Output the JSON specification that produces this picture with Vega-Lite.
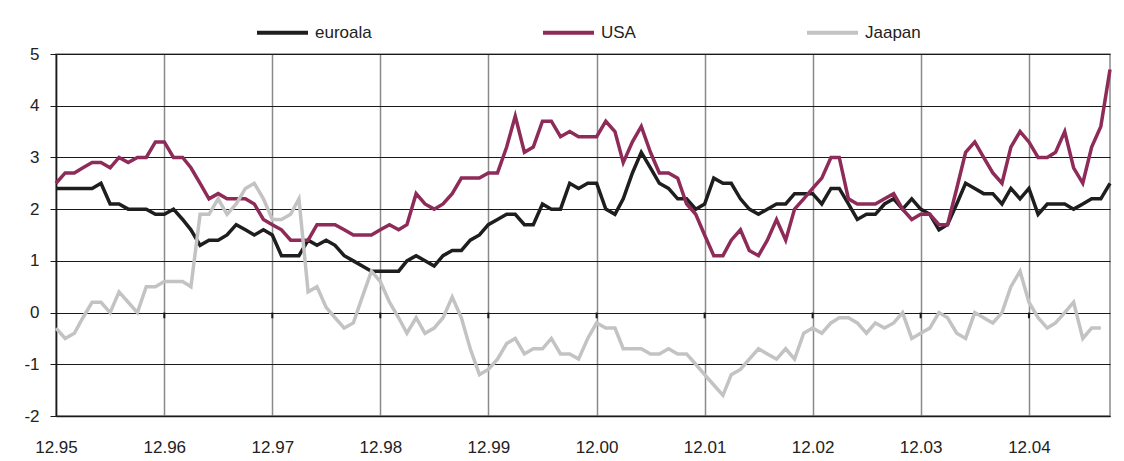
{
  "$schema": "https://vega.github.io/schema/vega-lite/v6.json",
  "width": 1054,
  "height": 362,
  "autosize": "none",
  "padding": {"left": 56, "top": 54, "right": 14, "bottom": 45},
  "background": "white",
  "config": {
    "font": "Liberation Sans",
    "view": {"stroke": "#8a8a8a", "strokeWidth": 1.5}
  },
  "layer": [
    {
      "data": {
        "values": [
          {"d": "1995-12-01", "euroala": 2.4, "USA": 2.5, "Jaapan": -0.3},
          {"d": "1996-01-01", "euroala": 2.4, "USA": 2.7, "Jaapan": -0.5},
          {"d": "1996-02-01", "euroala": 2.4, "USA": 2.7, "Jaapan": -0.4},
          {"d": "1996-03-01", "euroala": 2.4, "USA": 2.8, "Jaapan": -0.1},
          {"d": "1996-04-01", "euroala": 2.4, "USA": 2.9, "Jaapan": 0.2},
          {"d": "1996-05-01", "euroala": 2.5, "USA": 2.9, "Jaapan": 0.2},
          {"d": "1996-06-01", "euroala": 2.1, "USA": 2.8, "Jaapan": 0.0},
          {"d": "1996-07-01", "euroala": 2.1, "USA": 3.0, "Jaapan": 0.4},
          {"d": "1996-08-01", "euroala": 2.0, "USA": 2.9, "Jaapan": 0.2},
          {"d": "1996-09-01", "euroala": 2.0, "USA": 3.0, "Jaapan": 0.0},
          {"d": "1996-10-01", "euroala": 2.0, "USA": 3.0, "Jaapan": 0.5},
          {"d": "1996-11-01", "euroala": 1.9, "USA": 3.3, "Jaapan": 0.5},
          {"d": "1996-12-01", "euroala": 1.9, "USA": 3.3, "Jaapan": 0.6},
          {"d": "1997-01-01", "euroala": 2.0, "USA": 3.0, "Jaapan": 0.6},
          {"d": "1997-02-01", "euroala": 1.8, "USA": 3.0, "Jaapan": 0.6},
          {"d": "1997-03-01", "euroala": 1.6, "USA": 2.8, "Jaapan": 0.5},
          {"d": "1997-04-01", "euroala": 1.3, "USA": 2.5, "Jaapan": 1.9},
          {"d": "1997-05-01", "euroala": 1.4, "USA": 2.2, "Jaapan": 1.9},
          {"d": "1997-06-01", "euroala": 1.4, "USA": 2.3, "Jaapan": 2.2},
          {"d": "1997-07-01", "euroala": 1.5, "USA": 2.2, "Jaapan": 1.9},
          {"d": "1997-08-01", "euroala": 1.7, "USA": 2.2, "Jaapan": 2.1},
          {"d": "1997-09-01", "euroala": 1.6, "USA": 2.2, "Jaapan": 2.4},
          {"d": "1997-10-01", "euroala": 1.5, "USA": 2.1, "Jaapan": 2.5},
          {"d": "1997-11-01", "euroala": 1.6, "USA": 1.8, "Jaapan": 2.2},
          {"d": "1997-12-01", "euroala": 1.5, "USA": 1.7, "Jaapan": 1.8},
          {"d": "1998-01-01", "euroala": 1.1, "USA": 1.6, "Jaapan": 1.8},
          {"d": "1998-02-01", "euroala": 1.1, "USA": 1.4, "Jaapan": 1.9},
          {"d": "1998-03-01", "euroala": 1.1, "USA": 1.4, "Jaapan": 2.2},
          {"d": "1998-04-01", "euroala": 1.4, "USA": 1.4, "Jaapan": 0.4},
          {"d": "1998-05-01", "euroala": 1.3, "USA": 1.7, "Jaapan": 0.5},
          {"d": "1998-06-01", "euroala": 1.4, "USA": 1.7, "Jaapan": 0.1},
          {"d": "1998-07-01", "euroala": 1.3, "USA": 1.7, "Jaapan": -0.1},
          {"d": "1998-08-01", "euroala": 1.1, "USA": 1.6, "Jaapan": -0.3},
          {"d": "1998-09-01", "euroala": 1.0, "USA": 1.5, "Jaapan": -0.2},
          {"d": "1998-10-01", "euroala": 0.9, "USA": 1.5, "Jaapan": 0.3},
          {"d": "1998-11-01", "euroala": 0.8, "USA": 1.5, "Jaapan": 0.8},
          {"d": "1998-12-01", "euroala": 0.8, "USA": 1.6, "Jaapan": 0.6},
          {"d": "1999-01-01", "euroala": 0.8, "USA": 1.7, "Jaapan": 0.2},
          {"d": "1999-02-01", "euroala": 0.8, "USA": 1.6, "Jaapan": -0.1},
          {"d": "1999-03-01", "euroala": 1.0, "USA": 1.7, "Jaapan": -0.4},
          {"d": "1999-04-01", "euroala": 1.1, "USA": 2.3, "Jaapan": -0.1},
          {"d": "1999-05-01", "euroala": 1.0, "USA": 2.1, "Jaapan": -0.4},
          {"d": "1999-06-01", "euroala": 0.9, "USA": 2.0, "Jaapan": -0.3},
          {"d": "1999-07-01", "euroala": 1.1, "USA": 2.1, "Jaapan": -0.1},
          {"d": "1999-08-01", "euroala": 1.2, "USA": 2.3, "Jaapan": 0.3},
          {"d": "1999-09-01", "euroala": 1.2, "USA": 2.6, "Jaapan": -0.1},
          {"d": "1999-10-01", "euroala": 1.4, "USA": 2.6, "Jaapan": -0.7},
          {"d": "1999-11-01", "euroala": 1.5, "USA": 2.6, "Jaapan": -1.2},
          {"d": "1999-12-01", "euroala": 1.7, "USA": 2.7, "Jaapan": -1.1},
          {"d": "2000-01-01", "euroala": 1.8, "USA": 2.7, "Jaapan": -0.9},
          {"d": "2000-02-01", "euroala": 1.9, "USA": 3.2, "Jaapan": -0.6},
          {"d": "2000-03-01", "euroala": 1.9, "USA": 3.8, "Jaapan": -0.5},
          {"d": "2000-04-01", "euroala": 1.7, "USA": 3.1, "Jaapan": -0.8},
          {"d": "2000-05-01", "euroala": 1.7, "USA": 3.2, "Jaapan": -0.7},
          {"d": "2000-06-01", "euroala": 2.1, "USA": 3.7, "Jaapan": -0.7},
          {"d": "2000-07-01", "euroala": 2.0, "USA": 3.7, "Jaapan": -0.5},
          {"d": "2000-08-01", "euroala": 2.0, "USA": 3.4, "Jaapan": -0.8},
          {"d": "2000-09-01", "euroala": 2.5, "USA": 3.5, "Jaapan": -0.8},
          {"d": "2000-10-01", "euroala": 2.4, "USA": 3.4, "Jaapan": -0.9},
          {"d": "2000-11-01", "euroala": 2.5, "USA": 3.4, "Jaapan": -0.5},
          {"d": "2000-12-01", "euroala": 2.5, "USA": 3.4, "Jaapan": -0.2},
          {"d": "2001-01-01", "euroala": 2.0, "USA": 3.7, "Jaapan": -0.3},
          {"d": "2001-02-01", "euroala": 1.9, "USA": 3.5, "Jaapan": -0.3},
          {"d": "2001-03-01", "euroala": 2.2, "USA": 2.9, "Jaapan": -0.7},
          {"d": "2001-04-01", "euroala": 2.7, "USA": 3.3, "Jaapan": -0.7},
          {"d": "2001-05-01", "euroala": 3.1, "USA": 3.6, "Jaapan": -0.7},
          {"d": "2001-06-01", "euroala": 2.8, "USA": 3.1, "Jaapan": -0.8},
          {"d": "2001-07-01", "euroala": 2.5, "USA": 2.7, "Jaapan": -0.8},
          {"d": "2001-08-01", "euroala": 2.4, "USA": 2.7, "Jaapan": -0.7},
          {"d": "2001-09-01", "euroala": 2.2, "USA": 2.6, "Jaapan": -0.8},
          {"d": "2001-10-01", "euroala": 2.2, "USA": 2.1, "Jaapan": -0.8},
          {"d": "2001-11-01", "euroala": 2.0, "USA": 1.9, "Jaapan": -1.0},
          {"d": "2001-12-01", "euroala": 2.1, "USA": 1.5, "Jaapan": -1.2},
          {"d": "2002-01-01", "euroala": 2.6, "USA": 1.1, "Jaapan": -1.4},
          {"d": "2002-02-01", "euroala": 2.5, "USA": 1.1, "Jaapan": -1.6},
          {"d": "2002-03-01", "euroala": 2.5, "USA": 1.4, "Jaapan": -1.2},
          {"d": "2002-04-01", "euroala": 2.2, "USA": 1.6, "Jaapan": -1.1},
          {"d": "2002-05-01", "euroala": 2.0, "USA": 1.2, "Jaapan": -0.9},
          {"d": "2002-06-01", "euroala": 1.9, "USA": 1.1, "Jaapan": -0.7},
          {"d": "2002-07-01", "euroala": 2.0, "USA": 1.4, "Jaapan": -0.8},
          {"d": "2002-08-01", "euroala": 2.1, "USA": 1.8, "Jaapan": -0.9},
          {"d": "2002-09-01", "euroala": 2.1, "USA": 1.4, "Jaapan": -0.7},
          {"d": "2002-10-01", "euroala": 2.3, "USA": 2.0, "Jaapan": -0.9},
          {"d": "2002-11-01", "euroala": 2.3, "USA": 2.2, "Jaapan": -0.4},
          {"d": "2002-12-01", "euroala": 2.3, "USA": 2.4, "Jaapan": -0.3},
          {"d": "2003-01-01", "euroala": 2.1, "USA": 2.6, "Jaapan": -0.4},
          {"d": "2003-02-01", "euroala": 2.4, "USA": 3.0, "Jaapan": -0.2},
          {"d": "2003-03-01", "euroala": 2.4, "USA": 3.0, "Jaapan": -0.1},
          {"d": "2003-04-01", "euroala": 2.1, "USA": 2.2, "Jaapan": -0.1},
          {"d": "2003-05-01", "euroala": 1.8, "USA": 2.1, "Jaapan": -0.2},
          {"d": "2003-06-01", "euroala": 1.9, "USA": 2.1, "Jaapan": -0.4},
          {"d": "2003-07-01", "euroala": 1.9, "USA": 2.1, "Jaapan": -0.2},
          {"d": "2003-08-01", "euroala": 2.1, "USA": 2.2, "Jaapan": -0.3},
          {"d": "2003-09-01", "euroala": 2.2, "USA": 2.3, "Jaapan": -0.2},
          {"d": "2003-10-01", "euroala": 2.0, "USA": 2.0, "Jaapan": 0.0},
          {"d": "2003-11-01", "euroala": 2.2, "USA": 1.8, "Jaapan": -0.5},
          {"d": "2003-12-01", "euroala": 2.0, "USA": 1.9, "Jaapan": -0.4},
          {"d": "2004-01-01", "euroala": 1.9, "USA": 1.9, "Jaapan": -0.3},
          {"d": "2004-02-01", "euroala": 1.6, "USA": 1.7, "Jaapan": 0.0},
          {"d": "2004-03-01", "euroala": 1.7, "USA": 1.7, "Jaapan": -0.1},
          {"d": "2004-04-01", "euroala": 2.1, "USA": 2.4, "Jaapan": -0.4},
          {"d": "2004-05-01", "euroala": 2.5, "USA": 3.1, "Jaapan": -0.5},
          {"d": "2004-06-01", "euroala": 2.4, "USA": 3.3, "Jaapan": 0.0},
          {"d": "2004-07-01", "euroala": 2.3, "USA": 3.0, "Jaapan": -0.1},
          {"d": "2004-08-01", "euroala": 2.3, "USA": 2.7, "Jaapan": -0.2},
          {"d": "2004-09-01", "euroala": 2.1, "USA": 2.5, "Jaapan": 0.0},
          {"d": "2004-10-01", "euroala": 2.4, "USA": 3.2, "Jaapan": 0.5},
          {"d": "2004-11-01", "euroala": 2.2, "USA": 3.5, "Jaapan": 0.8},
          {"d": "2004-12-01", "euroala": 2.4, "USA": 3.3, "Jaapan": 0.2},
          {"d": "2005-01-01", "euroala": 1.9, "USA": 3.0, "Jaapan": -0.1},
          {"d": "2005-02-01", "euroala": 2.1, "USA": 3.0, "Jaapan": -0.3},
          {"d": "2005-03-01", "euroala": 2.1, "USA": 3.1, "Jaapan": -0.2},
          {"d": "2005-04-01", "euroala": 2.1, "USA": 3.5, "Jaapan": 0.0},
          {"d": "2005-05-01", "euroala": 2.0, "USA": 2.8, "Jaapan": 0.2},
          {"d": "2005-06-01", "euroala": 2.1, "USA": 2.5, "Jaapan": -0.5},
          {"d": "2005-07-01", "euroala": 2.2, "USA": 3.2, "Jaapan": -0.3},
          {"d": "2005-08-01", "euroala": 2.2, "USA": 3.6, "Jaapan": -0.3},
          {"d": "2005-09-01", "euroala": 2.5, "USA": 4.7}
        ]
      },
      "transform": [{"fold": ["euroala", "USA", "Jaapan"], "as": ["series", "value"]}],
      "mark": {"type": "line", "strokeWidth": 3.5, "strokeJoin": "miter"},
      "encoding": {
        "x": {
          "field": "d",
          "type": "temporal",
          "scale": {
            "type": "utc",
            "domain": [
              {"year": 1995, "month": 12, "date": 1, "utc": true},
              {"year": 2005, "month": 9, "date": 1, "utc": true}
            ]
          },
          "axis": {
            "title": null,
            "labelExpr": "utcFormat(datum.value, '%m.%y')",
            "values": [
              {"year": 1995, "month": 12, "date": 1, "utc": true},
              {"year": 1996, "month": 12, "date": 1, "utc": true},
              {"year": 1997, "month": 12, "date": 1, "utc": true},
              {"year": 1998, "month": 12, "date": 1, "utc": true},
              {"year": 1999, "month": 12, "date": 1, "utc": true},
              {"year": 2000, "month": 12, "date": 1, "utc": true},
              {"year": 2001, "month": 12, "date": 1, "utc": true},
              {"year": 2002, "month": 12, "date": 1, "utc": true},
              {"year": 2003, "month": 12, "date": 1, "utc": true},
              {"year": 2004, "month": 12, "date": 1, "utc": true}
            ],
            "grid": true,
            "gridColor": "#8a8a8a",
            "gridWidth": 1.5,
            "ticks": false,
            "domainColor": "#1a1a1a",
            "domainWidth": 1.5,
            "labelFontSize": 17,
            "labelColor": "#222222",
            "labelAlign": "center",
            "labelPadding": 23,
            "labelFlush": false,
            "labelOverlap": false
          }
        },
        "y": {
          "field": "value",
          "type": "quantitative",
          "scale": {"domain": [-2, 5], "nice": false, "zero": false},
          "axis": {
            "title": null,
            "values": [-2, -1, 0, 1, 2, 3, 4, 5],
            "labelExpr": "datum.value + ''",
            "grid": true,
            "gridColor": "#1a1a1a",
            "gridWidth": 1,
            "tickColor": "#1a1a1a",
            "tickSize": 6,
            "tickWidth": 1,
            "domainColor": "#1a1a1a",
            "domainWidth": 1.5,
            "labelFontSize": 17,
            "labelColor": "#222222",
            "labelPadding": 11
          }
        },
        "color": {
          "field": "series",
          "type": "nominal",
          "scale": {
            "domain": ["euroala", "USA", "Jaapan"],
            "range": ["#1e1e1e", "#8e2b59", "#c3c3c3"]
          },
          "legend": {
            "title": null,
            "orient": "none",
            "legendX": 199,
            "legendY": -49,
            "direction": "horizontal",
            "symbolType": "stroke",
            "symbolSize": 2601,
            "symbolStrokeWidth": 4,
            "labelFontSize": 17,
            "labelColor": "#222222",
            "labelOffset": 5,
            "columnPadding": 163
          }
        }
      }
    },
    {
      "data": {
        "values": [
          {"d": "1996-12-01"}, {"d": "1997-12-01"}, {"d": "1998-12-01"},
          {"d": "1999-12-01"}, {"d": "2000-12-01"}, {"d": "2001-12-01"},
          {"d": "2002-12-01"}, {"d": "2003-12-01"}, {"d": "2004-12-01"}
        ]
      },
      "mark": {"type": "rule", "color": "#1a1a1a", "strokeWidth": 2},
      "encoding": {
        "x": {"field": "d", "type": "temporal"},
        "y": {"datum": 0},
        "y2": {"datum": -0.11}
      }
    }
  ]
}
